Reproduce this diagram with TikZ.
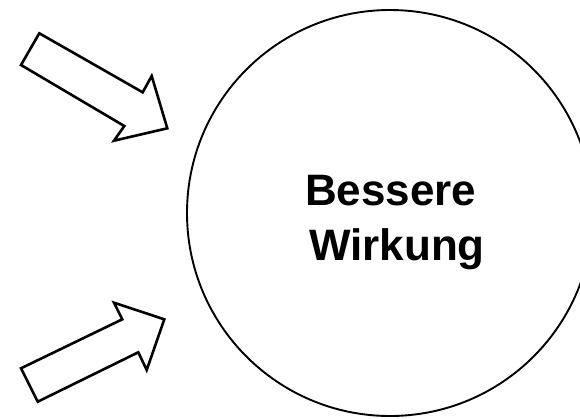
\documentclass[tikz,border=0pt]{standalone}
\usepackage{fontspec}
\setmainfont{Liberation Sans}
\begin{document}
\begin{tikzpicture}[x=1pt,y=-1pt,
  blockarrow/.style={draw=black,fill=white,line width=2.6pt,line join=miter},
  bigcircle/.style={circle,draw=black,line width=1.9pt,minimum size=406pt,inner sep=0pt},
  label/.style={align=center,font=\bfseries\fontsize{44}{55}\selectfont,inner sep=0pt}]
\useasboundingbox (0,0) rectangle (580,418);
\clip (0,0) rectangle (580,418);
\fill[white] (0,0) rectangle (580,418);
\node[bigcircle] (c) at (390,213) {};
\node[label] (t) at (397,222.5) {Bessere\hspace*{0.28em}\\Wirkung};
\draw[blockarrow] (39.3,33.3) -- (142.7,92.3) -- (151.7,76) -- (167.3,128.3) -- (114,140.7) -- (124.3,126) -- (21,65) -- cycle;
\draw[blockarrow] (21,368.3) -- (122.3,319.3) -- (114,302.7) -- (164.3,319.3) -- (146.7,370) -- (138.3,352.3) -- (37.7,401.7) -- cycle;
\end{tikzpicture}
\end{document}
